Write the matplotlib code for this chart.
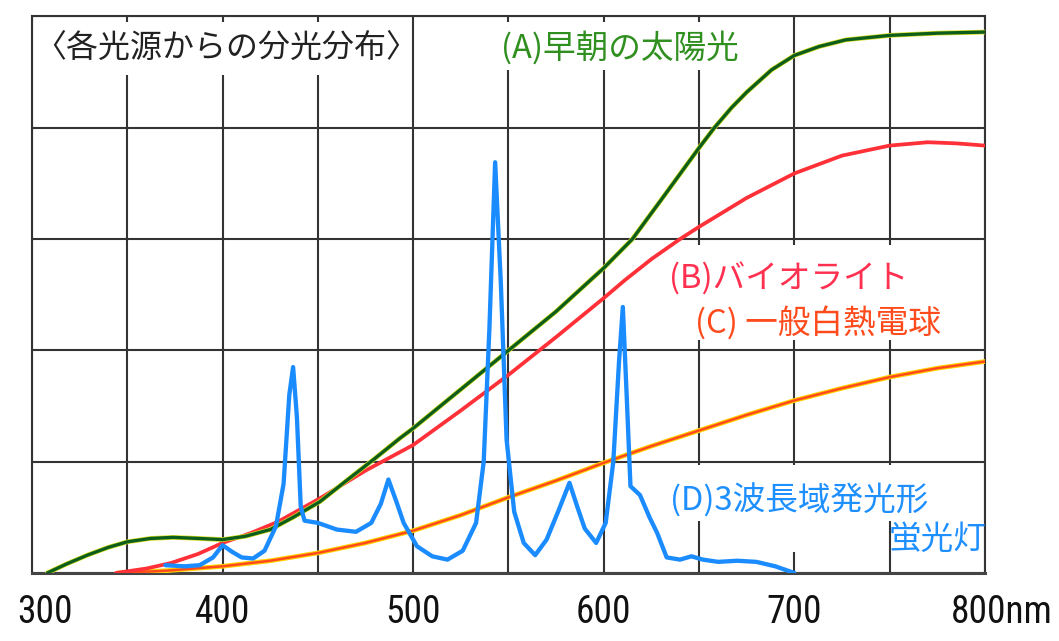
import matplotlib
matplotlib.use('Agg')
import matplotlib.pyplot as plt
from matplotlib.patches import Rectangle

plt.rcParams['font.family'] = ['Noto Sans CJK JP', 'DejaVu Sans']

# (A) early morning sunlight
sun_nm = [308, 318, 329, 340, 350, 362, 374, 388, 400, 412, 425, 437, 451, 465, 480,
          493, 500, 525, 550, 575, 591, 600, 615, 630, 650, 658, 667, 675, 688, 700,
          713, 727, 750, 775, 800]
sun_val = [0, 0.08, 0.16, 0.23, 0.28, 0.31, 0.32, 0.31, 0.30, 0.33, 0.39, 0.50, 0.64, 0.83, 1.03,
           1.21, 1.30, 1.65, 2.00, 2.35, 2.60, 2.74, 3.00, 3.35, 3.82, 4.00, 4.18, 4.32, 4.52, 4.65,
           4.73, 4.79, 4.83, 4.85, 4.86]

# (B) bio light
bio_nm = [344, 360, 373, 387, 400, 415, 429, 451, 475, 500, 525, 550, 575, 600, 611,
          625, 640, 650, 675, 700, 725, 750, 770, 785, 800]
bio_val = [0, 0.04, 0.09, 0.17, 0.27, 0.36, 0.46, 0.67, 0.92, 1.15, 1.46, 1.78, 2.12, 2.47, 2.63,
           2.82, 3.00, 3.11, 3.37, 3.59, 3.75, 3.84, 3.87, 3.86, 3.84]

# (C) incandescent bulb
bulb_nm = [345, 370, 400, 425, 450, 475, 500, 525, 550, 575, 600, 625, 650, 675, 700,
           725, 750, 775, 800]
bulb_val = [0, 0.02, 0.06, 0.11, 0.18, 0.27, 0.38, 0.52, 0.68, 0.83, 0.99, 1.14, 1.28, 1.42, 1.55,
            1.66, 1.76, 1.84, 1.90]

# (D) three-band fluorescent lamp
fl_nm = [370, 380, 388, 395, 400, 405, 410, 416, 422, 428, 432, 435, 437, 439, 441,
         443, 450, 460, 470, 478, 483, 487, 491, 495, 502, 510, 518, 526, 533, 537,
         540, 543, 546, 549, 553, 558, 564, 570, 576, 582, 586, 590, 596, 601, 605,
         608, 610, 612, 614, 619, 624, 628, 633, 640, 646, 652, 660, 670, 680, 690, 700]
fl_val = [0.07, 0.06, 0.07, 0.14, 0.25, 0.19, 0.14, 0.13, 0.20, 0.42, 0.80, 1.60, 1.85, 1.40, 0.60,
          0.47, 0.45, 0.39, 0.37, 0.45, 0.62, 0.84, 0.65, 0.45, 0.24, 0.15, 0.12, 0.20, 0.45, 1.00,
          2.20, 3.69, 2.60, 1.20, 0.55, 0.27, 0.16, 0.30, 0.55, 0.81, 0.60, 0.40, 0.27, 0.45, 1.00,
          1.90, 2.39, 1.60, 0.78, 0.70, 0.50, 0.36, 0.14, 0.12, 0.15, 0.12, 0.10, 0.11, 0.10, 0.06, 0.0]

tick_nm = [300, 400, 500, 600, 700, 800]
tick_txt = ['300', '400', '500', '600', '700', '800nm']

fig = plt.figure(figsize=(10.59, 6.41), dpi=100)
ax = fig.add_axes([0.0302, 0.1061, 0.8999, 0.8682])
ax.set_xlim(300, 800)
ax.set_ylim(0, 5)

# grid every 50 nm / one unit
ax.set_xticks(range(300, 801, 50))
ax.set_yticks(range(0, 6))
ax.tick_params(length=0, labelbottom=False, labelleft=False)
ax.set_axisbelow(True)
ax.grid(True, color='#333333', lw=1.5)
for s in ax.spines.values():
    s.set_color('#333333')
    s.set_linewidth(1.5)
ax.spines['bottom'].set_linewidth(2.2)
ax.spines['bottom'].set_color('#444444')

# white areas behind the labels (grid is cut there)
for (x0, y0, w, h) in [(303, 4.47, 189, 0.48), (540, 4.52, 135, 0.43),
                       (628, 2.09, 162, 0.86), (630, 0.47, 155, 0.50),
                       (680, 0.19, 40, 0.30)]:
    ax.add_patch(Rectangle((x0, y0), w, h, facecolor='white', edgecolor='none', zorder=1))

# curves
ax.plot(bulb_nm, bulb_val, color='#ffd400', lw=3.4, zorder=3, solid_capstyle='round')
ax.plot(bulb_nm, bulb_val, color='#ff4a1c', lw=1.8, zorder=3.1, solid_capstyle='round')
ax.plot(bio_nm, bio_val, color='#ff3038', lw=2.7, zorder=3.2, solid_capstyle='round')
ax.plot(sun_nm, sun_val, color='#d8e020', lw=3.4, zorder=3.3, solid_capstyle='round')
ax.plot(sun_nm, sun_val, color='#0d5e1c', lw=2.4, zorder=3.4, solid_capstyle='round')
ax.plot(fl_nm, fl_val, color='#1a8cff', lw=3.1, zorder=3.5, solid_capstyle='round',
        solid_joinstyle='round')

# labels
ax.text(301, 4.72, '〈各光源からの分光分布〉', fontsize=23, color='#222222', va='center', ha='left')
ax.text(546, 4.72, '(A)早朝の太陽光', fontsize=23.5, color='#2f8f1f', va='center', ha='left')
ax.text(634, 2.64, '(B)バイオライト', fontsize=23.5, color='#ff3050', va='center', ha='left')
ax.text(648, 2.25, '(C) 一般白熱電球', fontsize=23.5, color='#ff4a1c', va='center', ha='left')
ax.text(635, 0.65, '(D)3波長域発光形', fontsize=23.5, color='#1e8fff', va='center', ha='left')
ax.text(749.5, 0.30, '蛍光灯', fontsize=23.5, color='#1e8fff', va='center', ha='left')

# x tick labels
narrow = ['Liberation Sans Narrow', 'Roboto Condensed', 'DejaVu Sans']
for v, t in zip(tick_nm, tick_txt):
    if v == 300:
        ax.text(v + 7, -0.45, t, fontsize=27, family=narrow, ha='center', va='baseline',
                color='#111111', clip_on=False)
    elif v == 800:
        ax.text(v - 18, -0.45, t, fontsize=27, family=narrow, ha='left', va='baseline',
                color='#111111', clip_on=False)
    else:
        ax.text(v, -0.45, t, fontsize=27, family=narrow, ha='center', va='baseline',
                color='#111111', clip_on=False)

fig.savefig('out.png', dpi=100)
